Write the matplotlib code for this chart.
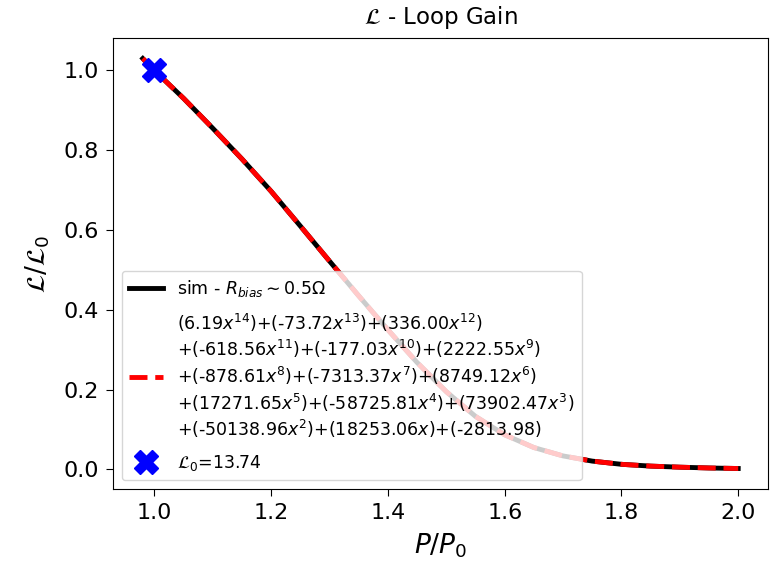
import matplotlib
matplotlib.use("Agg")
import matplotlib.pyplot as plt

# data
p_ratio = [0.98, 1.00, 1.05, 1.10, 1.15, 1.20, 1.25, 1.30, 1.35, 1.40, 1.45,
           1.50, 1.55, 1.60, 1.65, 1.70, 1.75, 1.80, 1.85, 1.90, 1.95, 2.00]
loop_gain = [1.03, 1.00, 0.93, 0.855, 0.778, 0.697, 0.610, 0.522, 0.435, 0.350, 0.268,
             0.195, 0.133, 0.087, 0.055, 0.034, 0.021, 0.013, 0.0085, 0.0058, 0.0038, 0.0025]
marker_x = [1.0]
marker_y = [1.0]
L0 = 13.74

sim_label = r"sim - $R_{bias}\sim0.5\Omega$"
fit_label = ("(6.19$x^{14}$)+(-73.72$x^{13}$)+(336.00$x^{12}$)\n"
             "+(-618.56$x^{11}$)+(-177.03$x^{10}$)+(2222.55$x^{9}$)\n"
             "+(-878.61$x^{8}$)+(-7313.37$x^{7}$)+(8749.12$x^{6}$)\n"
             "+(17271.65$x^{5}$)+(-58725.81$x^{4}$)+(73902.47$x^{3}$)\n"
             "+(-50138.96$x^{2}$)+(18253.06$x$)+(-2813.98)")
marker_label = r"$\mathcal{L}_0$=" + f"{L0:.2f}"

fig = plt.figure(figsize=(7.7, 5.62), dpi=100)
ax = fig.add_axes([113/770, 1 - 489/562, (768-113)/770, (489-38)/562])

ax.plot(p_ratio, loop_gain, color="black", lw=3.5, label=sim_label)
ax.plot(p_ratio, loop_gain, color="red", lw=3.5, ls="--", label=fit_label)
ax.plot(marker_x, marker_y, ls="none", marker="X", color="blue", ms=17, label=marker_label)

ax.set_title(r"$\mathcal{L}$ - Loop Gain", fontsize=16.5, pad=10)
ax.set_xlabel(r"$P/P_0$", fontsize=19, labelpad=6)
ax.set_ylabel(r"$\mathcal{L}/\mathcal{L}_0$", fontsize=19, labelpad=8)
ax.tick_params(labelsize=16, length=5, pad=5)
ax.set_xticks([1.0, 1.2, 1.4, 1.6, 1.8, 2.0])
ax.set_yticks([0.0, 0.2, 0.4, 0.6, 0.8, 1.0])

leg = ax.legend(loc="lower left", fontsize=12.5, labelspacing=0.75)
for t in leg.get_texts():
    t.set_linespacing(1.25)

fig.savefig("out.png", dpi=100)
